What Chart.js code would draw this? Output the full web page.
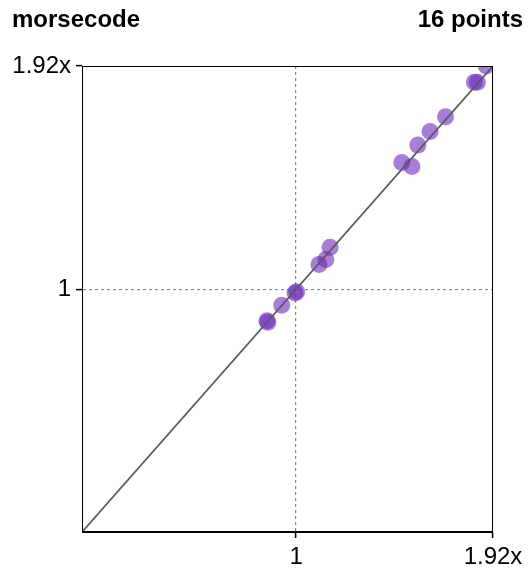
<!DOCTYPE html>
<html>
<head>
<meta charset="utf-8">
<script src="https://cdn.jsdelivr.net/npm/chart.js@4/dist/chart.umd.min.js"></script>
<style>
    html, body { margin: 0; padding: 0; background: #fff; }
    #wrap { position: relative; width: 529px; height: 568px; }
    .head { position: absolute; top: 7px; font: bold 24px "Liberation Sans", Arial, Helvetica, sans-serif; line-height: 24px; color: #000; }
    #title { left: 12px; }
    #count { right: 6px; }
    canvas { position: absolute; left: 0; top: 0; }
</style>
</head>
<body>
<div id="wrap">
    <canvas id="chart" width="529" height="568"></canvas>
    <div class="head" id="title">morsecode</div>
    <div class="head" id="count">16 points</div>
</div>
<script>
// values (ratio vs baseline)
const xValues = [0.864, 0.868, 0.933, 0.995, 1.003, 1.107, 1.139, 1.159, 1.494, 1.541, 1.569, 1.626, 1.698, 1.833, 1.847, 1.888];
const yValues = [0.870, 0.864, 0.934, 0.985, 0.990, 1.102, 1.123, 1.173, 1.522, 1.506, 1.594, 1.650, 1.711, 1.853, 1.853, 1.920];
const axisMax = 1.92;
const tickValues = [1, 1.92];
const tickLabels = ['1', '1.92x'];
const diagonal = [0, 1.92];

const FONT = '"Liberation Sans", Arial, Helvetica, sans-serif';

const points = xValues.map((x, i) => ({ x: x, y: yValues[i] }));
const diagPoints = diagonal.map(v => ({ x: v, y: v }));

function labelFor(v) {
    const i = tickValues.indexOf(v);
    return i >= 0 ? tickLabels[i] : '';
}

// box around the plot area (top and right sides)
const frame = {
    id: 'frame',
    afterDatasetsDraw(chart) {
        const a = chart.chartArea;
        const ctx = chart.ctx;
        ctx.save();
        ctx.strokeStyle = '#000';
        ctx.lineWidth = 1;
        ctx.strokeRect(Math.round(a.left) + 0.5, Math.round(a.top) + 0.5, Math.round(a.right - a.left) - 1, Math.round(a.bottom - a.top) - 1);
        ctx.restore();
    }
};

function axisOptions(isX) {
    return {
        type: 'linear',
        min: 0,
        max: axisMax,
        afterBuildTicks: scale => { scale.ticks = tickValues.map(v => ({ value: v })); },
        afterFit: scale => {
            if (isX) scale.height = 36;
            else scale.width = 82;
        },
        ticks: {
            autoSkip: false,
            maxRotation: 0,
            padding: 5,
            color: '#000',
            font: { family: FONT, size: 24 },
            callback: v => labelFor(v)
        },
        grid: {
            color: c => (c.tick && c.tick.value === 1) ? '#8a8a8a' : 'rgba(0,0,0,0)',
            lineWidth: 1.2,
            tickColor: '#000',
            tickLength: 6,
            tickWidth: 1.5
        },
        border: { display: true, color: '#000', width: 1, dash: [3, 3] }
    };
}

new Chart(document.getElementById('chart'), {
    type: 'scatter',
    data: {
        datasets: [
            {
                type: 'line',
                data: diagPoints,
                borderColor: '#5a5a5a',
                borderWidth: 1.8,
                pointRadius: 0,
                fill: false,
                order: 0
            },
            {
                data: points,
                backgroundColor: 'rgba(108, 40, 190, 0.6)',
                borderWidth: 0,
                pointRadius: 8.5,
                pointHoverRadius: 8.5,
                clip: 0,
                order: 1
            }
        ]
    },
    options: {
        responsive: false,
        animation: false,
        events: [],
        layout: { padding: { top: 66, right: 36, left: 0, bottom: 0 } },
        plugins: {
            legend: { display: false },
            tooltip: { enabled: false },
            title: { display: false }
        },
        scales: {
            x: axisOptions(true),
            y: axisOptions(false)
        }
    },
    plugins: [frame]
});
</script>
</body>
</html>
